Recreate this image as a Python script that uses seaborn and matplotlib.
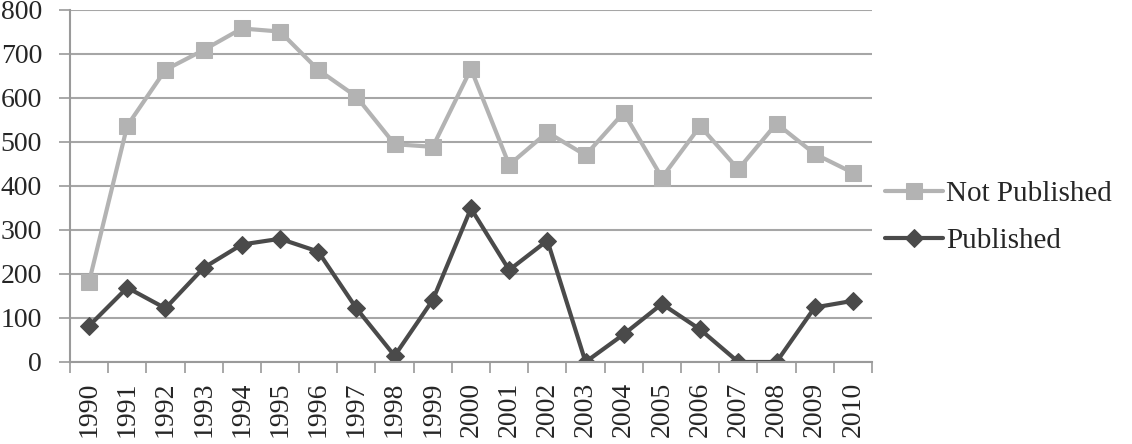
import numpy as np
import pandas as pd
import matplotlib
matplotlib.use("Agg")
import matplotlib.pyplot as plt
import seaborn as sns
from matplotlib.ticker import FixedLocator, MultipleLocator

years = list(range(1990, 2011))
not_published = [182, 537, 664, 709, 758, 751, 664, 603, 495, 489, 666,
                 448, 522, 470, 567, 419, 536, 438, 542, 473, 430]
published = [82, 169, 122, 214, 267, 280, 251, 122, 14, 141, 349,
             209, 276, 0, 63, 132, 74, 0, 0, 124, 139]

sns.set_style("white")
plt.rcParams['font.family'] = ['Liberation Serif', 'DejaVu Serif']

fig = plt.figure(figsize=(11.32, 4.44), dpi=100)
ax = fig.add_axes([0.0618, 0.1847, 0.7085, 0.7928])

df = pd.DataFrame({"year": years, "Not Published": not_published, "Published": published})

sns.lineplot(data=df, x="year", y="Not Published", ax=ax, color="#b3b3b3",
             marker="s", markersize=11, markeredgecolor="#b3b3b3", linewidth=3,
             label="Not Published")
sns.lineplot(data=df, x="year", y="Published", ax=ax, color="#4a4a4a",
             marker="D", markersize=9, markeredgecolor="#4a4a4a", linewidth=3,
             label="Published")

ax.set_xlim(years[0] - 0.5, years[-1] + 0.5)
ax.set_ylim(0, 800)
ax.yaxis.set_major_locator(MultipleLocator(100))
ax.grid(axis="y", color="#a6a6a6", linewidth=1.5)
ax.set_axisbelow(True)
ax.set_xlabel("")
ax.set_ylabel("")

ax.set_xticks(years)
ax.set_xticklabels([str(y) for y in years], rotation=90, fontsize=20)
ax.xaxis.set_minor_locator(FixedLocator(np.arange(years[0] - 0.5, years[-1] + 1, 1)))
ax.tick_params(axis="x", which="major", length=0, pad=14)
ax.tick_params(axis="x", which="minor", length=8, width=1.2, color="#9a9a9a", bottom=True)
ax.tick_params(axis="y", which="major", length=8, width=1.2, color="#9a9a9a",
               labelsize=20, left=True, pad=12)

for side in ["top", "right"]:
    ax.spines[side].set_visible(False)
for side in ["left", "bottom"]:
    ax.spines[side].set_color("#9a9a9a")
    ax.spines[side].set_linewidth(1.5)

leg = ax.legend(loc="center left", bbox_to_anchor=(1.016, 0.41), frameon=False,
                fontsize=21, handlelength=2.0, handletextpad=0.1, labelspacing=0.7,
                borderaxespad=0, borderpad=0)

fig.savefig("out.png", dpi=100)
